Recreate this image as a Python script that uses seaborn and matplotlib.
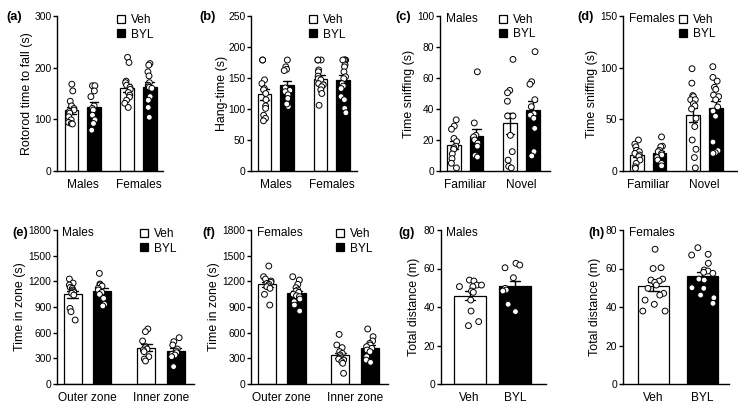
import warnings
warnings.filterwarnings("ignore")
import numpy as np
import pandas as pd
import matplotlib
matplotlib.use("Agg")
import matplotlib.pyplot as plt
import seaborn as sns
from matplotlib.lines import Line2D

np.random.seed(3)

# ---------------- data (individual animals) ----------------
TREATMENTS = ["Veh", "BYL"]

# (a) Rotorod time to fall (s)
A_GROUPS = ["Males", "Females"]
A_M_VEH = [168, 155, 135, 126, 121, 118, 115, 112, 105, 99, 94, 92, 91]
A_M_BYL = [165, 165, 155, 144, 126, 121, 118, 108, 99, 92, 79]
A_F_VEH = [220, 210, 174, 171, 166, 162, 158, 152, 147, 143, 137, 131, 123]
A_F_BYL = [208, 205, 192, 184, 171, 166, 163, 162, 160, 144, 137, 123, 104]
A_YTICKS = [0, 100, 200, 300]

# (b) Hang-time (s)
B_GROUPS = ["Males", "Females"]
B_M_VEH = [179, 179, 147, 141, 133, 131, 125, 115, 105, 101, 90, 85, 81]
B_M_BYL = [179, 168, 164, 162, 134, 130, 128, 123, 117, 104, 108]
B_F_VEH = [179, 179, 179, 163, 160, 153, 149, 147, 141, 139, 136, 131, 125, 106]
B_F_BYL = [179, 179, 179, 179, 171, 168, 160, 152, 149, 141, 137, 133, 120, 115, 101, 94]
B_YTICKS = [0, 50, 100, 150, 200, 250]

# (c) Time sniffing (s), males
C_GROUPS = ["Familiar", "Novel"]
C_F_VEH = [33, 29, 27, 21, 19, 16, 15, 14, 11, 8, 5, 2]
C_F_BYL = [64, 31, 23, 22, 20, 18, 16, 10, 10, 9]
C_N_VEH = [72, 52, 50.5, 45, 35.5, 35.5, 23, 12.5, 7, 3, 2]
C_N_BYL = [77, 57.6, 56, 46, 41.5, 37, 36, 34, 27.5, 12.5, 9.7]
C_YTICKS = [0, 20, 40, 60, 80, 100]

# (d) Time sniffing (s), females
D_GROUPS = ["Familiar", "Novel"]
D_F_VEH = [30, 26, 23.5, 20, 18.7, 17, 15.5, 14, 10.6, 7.4, 4, 2.6]
D_F_BYL = [33, 24, 23.5, 20, 18.7, 17, 15.5, 13, 10.6, 7.4, 5]
D_N_VEH = [99, 85, 73, 72, 69, 69, 65, 63, 60, 51, 43, 30, 21, 13, 3]
D_N_BYL = [101, 90.6, 87, 81, 79, 73.5, 72, 69, 62, 58, 53, 28, 19.7, 17.7, 17]
D_YTICKS = [0, 50, 100, 150]

# (e) Time in zone (s), males
E_GROUPS = ["Outer zone", "Inner zone"]
E_O_VEH = [1227, 1180, 1157, 1130, 1118, 1099, 1087, 1070, 1060, 1040, 884, 845, 748]
E_O_BYL = [1293, 1169, 1157, 1145, 1118, 1099, 1071, 1048, 1001, 931, 912]
E_I_VEH = [643, 612, 503, 436, 425, 409, 397, 378, 319, 292, 269]
E_I_BYL = [541, 495, 456, 409, 386, 366, 347, 339, 319, 203]
E_YTICKS = [0, 300, 600, 900, 1200, 1500, 1800]

# (f) Time in zone (s), females
F_GROUPS = ["Outer zone", "Inner zone"]
F_O_VEH = [1379, 1254, 1227, 1204, 1188, 1176, 1165, 1149, 1137, 1118, 1048, 923]
F_O_BYL = [1254, 1215, 1165, 1126, 1099, 1087, 1071, 1048, 1032, 1021, 993, 962, 923, 853]
F_I_VEH = [580, 456, 425, 378, 358, 339, 319, 300, 292, 280, 261, 242, 125]
F_I_BYL = [643, 553, 503, 475, 456, 436, 417, 397, 378, 319, 280, 253]
F_YTICKS = [0, 300, 600, 900, 1200, 1500, 1800]

# (g) Total distance (m), males
G_VEH = [54, 53.5, 51.4, 51.4, 50.6, 50.6, 48.3, 47.6, 43.6, 37.9, 32.4, 30.3]
G_BYL = [62.7, 61.8, 60.4, 55.2, 49.7, 48.8, 48.3, 41.9, 41.4, 37.6]
G_YTICKS = [0, 20, 40, 60, 80]

# (h) Total distance (m), females
H_VEH = [70, 60.4, 60, 54.5, 54, 53.5, 52.8, 51.4, 49.7, 47.1, 46.2, 43.6, 41.4, 37.9, 37.9]
H_BYL = [70.8, 67.4, 67, 62.7, 59.2, 58.7, 58, 57.5, 54.5, 54, 50, 49.7, 46.2, 44.8, 41.9]
H_YTICKS = [0, 20, 40, 60, 80]

# ---------------- style ----------------
sns.set_theme(style="ticks")
plt.rcParams["font.family"] = ["Liberation Sans", "DejaVu Sans"]
FS = 8.6
plt.rcParams.update({
    "font.size": FS, "axes.labelsize": 8.9, "xtick.labelsize": FS, "ytick.labelsize": 7.4,
    "axes.linewidth": 1.0, "ytick.major.width": 1.0, "ytick.major.size": 3.2,
    "ytick.major.pad": 0.8, "text.color": "black", "axes.labelcolor": "black",
    "xtick.color": "black", "ytick.color": "black", "axes.edgecolor": "black",
})
BAR_COLORS = {"Veh": "white", "BYL": "black"}
DOT_COLORS = {"Veh": "white", "BYL": "white"}

W, H = 738, 411
fig = plt.figure(figsize=(W / 100, H / 100), dpi=100)


def fx(px):
    return px / W


def fy(py):
    return 1 - py / H


def add_ax(left, right, top, bottom):
    return fig.add_axes([fx(left), fy(bottom), (right - left) / W, (bottom - top) / H])


def long_df(groups, series):
    rows = []
    for g, (veh, byl) in zip(groups, series):
        rows += [(g, "Veh", v) for v in veh]
        rows += [(g, "BYL", v) for v in byl]
    return pd.DataFrame(rows, columns=["group", "treat", "value"])


def finish(ax, yticks, ylabel, xlim, label_x, letter, letter_px, title=None, title_px=None):
    ax.set_ylim(yticks[0], yticks[-1])
    ax.set_yticks(yticks)
    ax.set_xlim(*xlim)
    ax.set_xlabel("")
    ax.set_ylabel(ylabel)
    ax.yaxis.set_label_coords(label_x, 0.5)
    ax.tick_params(axis="x", length=0, pad=6)
    sns.despine(ax=ax)
    for c in ax.collections:
        c.set_clip_on(False)
    fig.text(fx(letter_px[0]), fy(letter_px[1]), letter, fontsize=9.3, fontweight="bold",
             ha="left", va="center")
    if title:
        fig.text(fx(title_px[0]), fy(title_px[1]), title, fontsize=FS, ha="left", va="center")


def add_legend(ax, marker_x, mid_y):
    handles = [Line2D([], [], linestyle="none", marker="s", markersize=5.2,
                      markerfacecolor=BAR_COLORS[t], markeredgecolor="black",
                      markeredgewidth=0.9, label=t) for t in TREATMENTS]
    ax.legend(handles=handles, loc="center left", bbox_to_anchor=(fx(marker_x - 4.2), fy(mid_y)),
              bbox_transform=fig.transFigure, frameon=False, borderpad=0, borderaxespad=0,
              handlelength=0.7, handletextpad=0.45, labelspacing=0.18, fontsize=FS)


def grouped_panel(ax, groups, series):
    df = long_df(groups, series)
    sns.barplot(data=df, x="group", y="value", hue="treat", hue_order=TREATMENTS,
                order=groups, palette=BAR_COLORS, errorbar="se", capsize=0.3,
                width=0.8, gap=0.38, edgecolor="black", linewidth=0.9,
                err_kws={"color": "black", "linewidth": 1.0}, legend=False, ax=ax)
    sns.stripplot(data=df, x="group", y="value", hue="treat", hue_order=TREATMENTS,
                  order=groups, palette=DOT_COLORS, dodge=True, jitter=0.11, size=4.2,
                  edgecolor="black", linewidth=0.7, legend=False, ax=ax)


def single_panel(ax, veh, byl, width, jitter):
    df = long_df(["Veh"], [(veh, [])])
    df = pd.concat([df, pd.DataFrame({"group": "BYL", "treat": "BYL", "value": byl})])
    sns.barplot(data=df, x="group", y="value", hue="treat", hue_order=TREATMENTS,
                order=TREATMENTS, palette=BAR_COLORS, errorbar="se", capsize=0.22,
                width=width, edgecolor="black", linewidth=0.9, dodge=False,
                err_kws={"color": "black", "linewidth": 1.0}, legend=False, ax=ax)
    sns.stripplot(data=df, x="group", y="value", hue="treat", hue_order=TREATMENTS,
                  order=TREATMENTS, palette=DOT_COLORS, jitter=jitter, size=4.2,
                  edgecolor="black", linewidth=0.7, legend=False, ax=ax)


# ---------------- row 1 ----------------
ax = add_ax(57, 163, 16, 171)
grouped_panel(ax, A_GROUPS, [(A_M_VEH, A_M_BYL), (A_F_VEH, A_F_BYL)])
finish(ax, A_YTICKS, "Rotorod time to fall (s)", (-0.46, 1.44), -0.224, "(a)", (6, 17))
add_legend(ax, 121.5, 27.5)

ax = add_ax(251, 357, 16, 171)
grouped_panel(ax, B_GROUPS, [(B_M_VEH, B_M_BYL), (B_F_VEH, B_F_BYL)])
finish(ax, B_YTICKS, "Hang-time (s)", (-0.44, 1.45), -0.22, "(b)", (199, 17))
add_legend(ax, 313, 27.5)

ax = add_ax(440, 550, 16, 171)
grouped_panel(ax, C_GROUPS, [(C_F_VEH, C_F_BYL), (C_N_VEH, C_N_BYL)])
finish(ax, C_YTICKS, "Time sniffing (s)", (-0.45, 1.51), -0.23, "(c)", (395, 17),
       "Males", (446, 19))
add_legend(ax, 503.5, 27)

ax = add_ax(623, 737, 16, 171)
grouped_panel(ax, D_GROUPS, [(D_F_VEH, D_F_BYL), (D_N_VEH, D_N_BYL)])
finish(ax, D_YTICKS, "Time sniffing (s)", (-0.45, 1.58), -0.215, "(d)", (577, 17),
       "Females", (629, 19))
add_legend(ax, 683, 27)

# ---------------- row 2 ----------------
ax = add_ax(57, 194, 230, 384)
grouped_panel(ax, E_GROUPS, [(E_O_VEH, E_O_BYL), (E_I_VEH, E_I_BYL)])
finish(ax, E_YTICKS, "Time in zone (s)", (-0.415, 1.45), -0.225, "(e)", (12, 233),
       "Males", (62, 233))
add_legend(ax, 144.5, 241.5)

ax = add_ax(251, 388, 230, 384)
grouped_panel(ax, F_GROUPS, [(F_O_VEH, F_O_BYL), (F_I_VEH, F_I_BYL)])
finish(ax, F_YTICKS, "Time in zone (s)", (-0.42, 1.45), -0.225, "(f)", (202, 233),
       "Females", (257, 233))
add_legend(ax, 340, 241.5)

ax = add_ax(441, 546, 230, 384)
single_panel(ax, G_VEH, G_BYL, 0.7, 0.27)
finish(ax, G_YTICKS, "Total distance (m)", (-0.63, 1.68), -0.2, "(g)", (398, 233),
       "Males", (446, 233))

ax = add_ax(623, 729, 230, 384)
single_panel(ax, H_VEH, H_BYL, 0.62, 0.24)
finish(ax, H_YTICKS, "Total distance (m)", (-0.62, 1.54), -0.21, "(h)", (588, 233),
       "Females", (629, 233))

fig.savefig("out.png", dpi=100, facecolor="white")
